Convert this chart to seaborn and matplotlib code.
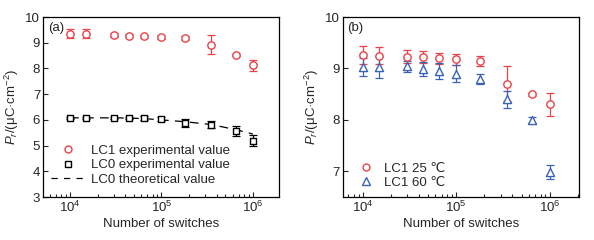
import numpy as np
import pandas as pd
import matplotlib
matplotlib.use("Agg")
import matplotlib.pyplot as plt
import seaborn as sns
from matplotlib.lines import Line2D

sns.set_style("ticks")
plt.rcParams['font.family'] = ['Liberation Sans', 'DejaVu Sans']
plt.rcParams['mathtext.fontset'] = 'custom'
plt.rcParams['mathtext.it'] = 'Liberation Sans:italic'
plt.rcParams['mathtext.rm'] = 'Liberation Sans'

switches = [1e4, 1.5e4, 3e4, 4.4e4, 6.5e4, 1e5, 1.8e5, 3.5e5, 6.5e5, 1e6]

# panel (a)
lc1_exp = [9.35, 9.35, 9.30, 9.28, 9.25, 9.23, 9.19, 8.93, 8.54, 8.12]
lc1_err = [0.17, 0.17, 0.07, 0.07, 0.07, 0.08, 0.07, 0.36, 0.04, 0.22]
lc0_exp = [6.08, 6.08, 6.08, 6.08, 6.08, 6.02, 5.89, 5.81, 5.57, 5.19]
lc0_err = [0.04, 0.04, 0.05, 0.05, 0.08, 0.08, 0.15, 0.14, 0.18, 0.22]
lc0_theo = [6.08, 6.08, 6.08, 6.07, 6.05, 6.00, 5.93, 5.82, 5.62, 5.45]

# panel (b)
lc1_25 = [9.26, 9.25, 9.23, 9.22, 9.20, 9.18, 9.14, 8.70, 8.50, 8.30]
lc1_25_err = [0.17, 0.17, 0.12, 0.11, 0.11, 0.11, 0.10, 0.34, 0.03, 0.22]
lc1_60 = [9.03, 9.03, 9.04, 8.99, 8.95, 8.90, 8.80, 8.40, 8.00, 6.99]
lc1_60_err = [0.18, 0.22, 0.10, 0.14, 0.15, 0.17, 0.10, 0.17, 0.06, 0.13]

red = '#e8424a'
blue = '#3a63b8'
fs = 9.5

df_a = pd.DataFrame({'x': switches, 'lc1': lc1_exp, 'lc0': lc0_exp, 'theo': lc0_theo})
df_b = pd.DataFrame({'x': switches, 'c25': lc1_25, 'c60': lc1_60})

fig = plt.figure(figsize=(5.94, 2.4), dpi=100)
ax1 = fig.add_axes([0.0724, 0.179, 0.397, 0.750])
ax2 = fig.add_axes([0.577, 0.179, 0.397, 0.750])

# Panel (a)
sns.lineplot(data=df_a, x='x', y='theo', ax=ax1, color='black', lw=0.9,
             linestyle=(0, (7, 5)), zorder=1)
ax1.errorbar(switches, lc1_exp, yerr=lc1_err, fmt='none', ecolor=red, elinewidth=0.9,
             capsize=3, capthick=0.9, zorder=2)
ax1.errorbar(switches, lc0_exp, yerr=lc0_err, fmt='none', ecolor='black', elinewidth=0.9,
             capsize=3, capthick=0.9, zorder=2)
sns.scatterplot(data=df_a, x='x', y='lc1', ax=ax1, marker='o', s=28, facecolor='white',
                edgecolor=red, linewidth=1.0, zorder=3)
sns.scatterplot(data=df_a, x='x', y='lc0', ax=ax1, marker='s', s=20, facecolor='white',
                edgecolor='black', linewidth=1.0, zorder=3)

# Panel (b)
ax2.errorbar(switches, lc1_25, yerr=lc1_25_err, fmt='none', ecolor=red, elinewidth=0.9,
             capsize=3, capthick=0.9, zorder=2)
ax2.errorbar(switches, lc1_60, yerr=lc1_60_err, fmt='none', ecolor=blue, elinewidth=0.9,
             capsize=3, capthick=0.9, zorder=2)
sns.scatterplot(data=df_b, x='x', y='c25', ax=ax2, marker='o', s=28, facecolor='white',
                edgecolor=red, linewidth=1.0, zorder=3)
sns.scatterplot(data=df_b, x='x', y='c60', ax=ax2, marker='^', s=34, facecolor='white',
                edgecolor=blue, linewidth=1.0, zorder=3)

ylabel = r'$P_r$/(μC·cm$^{-2}$)'
for ax, xl, yl, yt, lab in [(ax1, (5.07e3, 1.92e6), (3, 10), range(3, 11), '(a)'),
                            (ax2, (6.1e3, 2.04e6), (6.5, 10), range(7, 11), '(b)')]:
    ax.set_xscale('log')
    ax.set_xlim(*xl)
    ax.set_ylim(*yl)
    ax.set_yticks(list(yt))
    ax.set_xlabel('Number of switches', fontsize=fs, labelpad=2)
    ax.set_ylabel(ylabel, fontsize=fs, labelpad=3)
    ax.tick_params(axis='both', which='both', direction='in', labelsize=fs, width=0.8,
                   top=False, right=False, pad=2)
    ax.tick_params(axis='both', which='major', length=3.5)
    ax.tick_params(axis='x', which='minor', length=2)
    for s in ax.spines.values():
        s.set_visible(True)
        s.set_linewidth(0.9)
        s.set_color('black')
    ax.text(0.02, 0.97, lab, transform=ax.transAxes, ha='left', va='top', fontsize=fs)

h_a = [Line2D([], [], marker='o', ls='none', mfc='white', mec=red, ms=5, mew=1.0),
       Line2D([], [], marker='s', ls='none', mfc='white', mec='black', ms=4.5, mew=1.0),
       Line2D([], [], color='black', lw=0.9, ls=(0, (5, 5)))]
ax1.legend(h_a, ['LC1 experimental value', 'LC0 experimental value', 'LC0 theoretical value'],
           loc='lower left', frameon=False, fontsize=fs, handlelength=2.6, handletextpad=0.4,
           labelspacing=0.15, borderaxespad=0.2, bbox_to_anchor=(0.0, 0.02))

h_b = [Line2D([], [], marker='o', ls='none', mfc='white', mec=red, ms=5, mew=1.0),
       Line2D([], [], marker='^', ls='none', mfc='white', mec=blue, ms=5.5, mew=1.0)]
ax2.legend(h_b, ['LC1 25 ℃', 'LC1 60 ℃'], loc='lower left', frameon=False, fontsize=fs,
           handlelength=1.8, handletextpad=0.4, labelspacing=0.15,
           bbox_to_anchor=(0.0, -0.02))

fig.savefig('out.png', dpi=100)
